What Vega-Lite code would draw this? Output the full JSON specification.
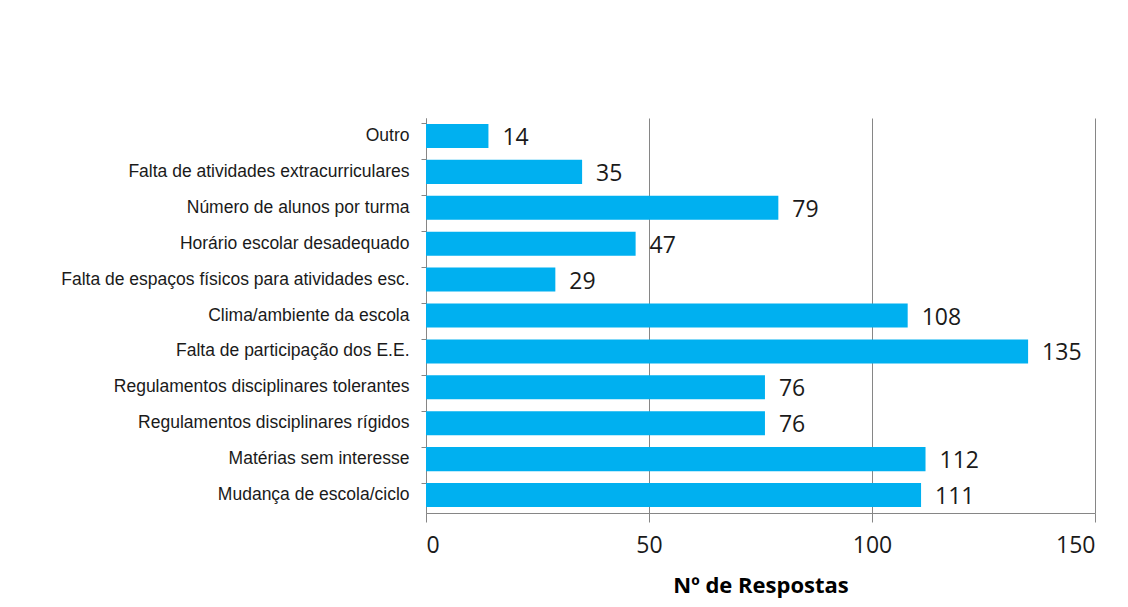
{
  "$schema": "https://vega.github.io/schema/vega-lite/v6.json",
  "width": 669,
  "height": 395,
  "autosize": "none",
  "padding": {"left": 426, "top": 118, "right": 33, "bottom": 94},
  "background": "white",
  "view": {"stroke": null},
  "data": {"values": [
    {"motivo": "Outro", "n": 14},
    {"motivo": "Falta de atividades extracurriculares", "n": 35},
    {"motivo": "Número de alunos por turma", "n": 79},
    {"motivo": "Horário escolar desadequado", "n": 47},
    {"motivo": "Falta de espaços físicos para atividades esc.", "n": 29},
    {"motivo": "Clima/ambiente da escola", "n": 108},
    {"motivo": "Falta de participação dos E.E.", "n": 135},
    {"motivo": "Regulamentos disciplinares tolerantes", "n": 76},
    {"motivo": "Regulamentos disciplinares rígidos", "n": 76},
    {"motivo": "Matérias sem interesse", "n": 112},
    {"motivo": "Mudança de escola/ciclo", "n": 111}
  ]},
  "encoding": {
    "y": {
      "field": "motivo", "type": "nominal", "sort": null,
      "scale": {"paddingInner": 0.33, "paddingOuter": 0.165},
      "axis": {
        "title": null, "domainColor": "#868686", "tickColor": "#868686",
        "tickSize": 5, "bandPosition": 0, "labelFont": "Liberation Sans",
        "labelFontSize": 17.5, "labelColor": "#1a1a1a", "labelPadding": 12, "labelLimit": 420, "grid": false
      }
    },
    "x": {
      "field": "n", "type": "quantitative",
      "scale": {"domain": [0, 150], "nice": false},
      "axis": {
        "values": [0, 50, 100, 150], "title": "Nº de Respostas",
        "titleFont": "Open Sans", "titleFontSize": 22, "titleFontWeight": "bold",
        "titleColor": "#000000", "titlePadding": 18,
        "labelFont": "Open Sans", "labelFontSize": 23, "labelColor": "#1a1a1a", "labelPadding": 12,
        "domainColor": "#868686", "tickColor": "#868686", "tickSize": 9,
        "grid": true, "gridColor": "#868686", "gridWidth": 1
      }
    }
  },
  "layer": [
    {"mark": {"type": "bar", "color": "#00B0F0"}},
    {"mark": {"type": "text", "align": "left", "dx": 14, "dy": 2, "font": "Open Sans", "fontSize": 23, "color": "#1a1a1a"},
     "encoding": {"text": {"field": "n", "type": "quantitative"}}}
  ]
}
